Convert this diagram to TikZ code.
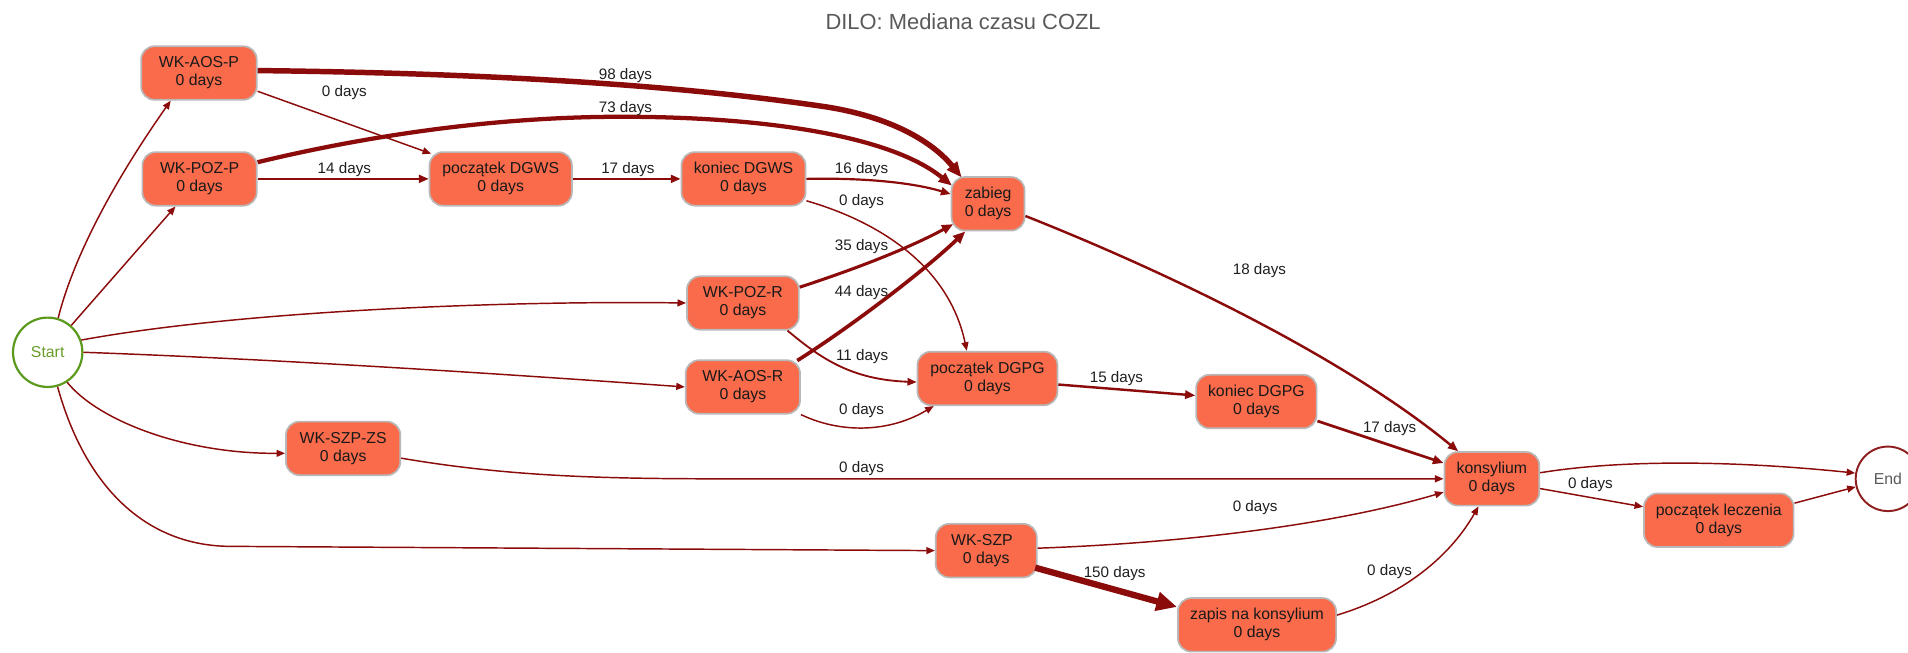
\documentclass[tikz,border=0pt]{standalone}
\usepackage{fontspec}
\setmainfont{Liberation Sans}
\usetikzlibrary{arrows.meta,calc}
\definecolor{edgecol}{HTML}{8B0A0A}
\definecolor{boxfill}{HTML}{F96B4B}
\definecolor{boxborder}{HTML}{B8B8B8}
\definecolor{startgreen}{HTML}{5C9A1E}
\definecolor{starttext}{HTML}{6A9C2C}
\definecolor{endred}{HTML}{8E1F1F}
\definecolor{titlegray}{HTML}{5A5A5A}
\begin{document}
\begin{tikzpicture}[x=1pt,y=-1pt,
  box/.style={draw=boxborder, line width=1.4pt, fill=boxfill, rounded corners=11pt,
    minimum height=44pt, inner sep=0pt, align=center,
    font=\fontsize{13}{14.8}\selectfont, text=black!90},
  e/.style={draw=edgecol, line width=1.2pt, -{Triangle[length=5pt 1.7, width=4pt 1.4]}},
  bige/.style={draw=edgecol, line width=5.2pt, -{Triangle[length=17pt, width=15pt]}},
  lbl/.style={font=\fontsize{12.5}{14}\selectfont, text=black!88, inner sep=0pt},
  ttl/.style={font=\fontsize{18}{20}\selectfont, text=titlegray, inner sep=0pt}]
\useasboundingbox (0,0) rectangle (1568,536);
\fill[white] (0,0) rectangle (1568,536);

\node[ttl] (title) at (791.5,18) {DILO: Mediana czasu COZL};

\node[circle, draw=startgreen, line width=1.8pt, minimum size=57pt, inner sep=0pt,
  font=\fontsize{13}{15}\selectfont, text=starttext] (start) at (39.2,289.5) {Start};
\node[circle, draw=endred, line width=1.6pt, fill=white, minimum size=53pt, inner sep=0pt,
  font=\fontsize{13}{15}\selectfont, text=titlegray] (end) at (1551.5,393.5) {End};

\node[box, minimum width=95pt] (aosp) at (163.5,60) {WK-AOS-P\\0 days};
\node[box, minimum width=94pt] (pozp) at (164,147) {WK-POZ-P\\0 days};
\node[box, minimum width=117pt] (pdgws) at (411.5,147) {początek DGWS\\0 days};
\node[box, minimum width=102pt] (kdgws) at (611,147) {koniec DGWS\\0 days};
\node[box, minimum width=60pt] (zabieg) at (812,167.5) {zabieg\\0 days};
\node[box, minimum width=92pt] (pozr) at (610.5,249) {WK-POZ-R\\0 days};
\node[box, minimum width=94pt] (aosr) at (610.5,318) {WK-AOS-R\\0 days};
\node[box, minimum width=115pt] (pdgpg) at (811.5,311) {początek DGPG\\0 days};
\node[box, minimum width=99pt] (kdgpg) at (1032.5,330) {koniec DGPG\\0 days};
\node[box, minimum width=94pt] (szpzs) at (282,368.5) {WK-SZP-ZS\\0 days};
\node[box, minimum width=78pt] (kons) at (1226,393.5) {konsylium\\0 days};
\node[box, minimum width=123pt] (plecz) at (1412.5,427.5) {początek leczenia\\0 days};
\node[box, minimum width=83pt] (szp) at (810.5,452.5) {WK-SZP\hspace*{7pt}\\0 days};
\node[box, minimum width=130pt] (zapis) at (1033,513.5) {zapis na konsylium\\0 days};

% edges from Start
\draw[e] (start.73) .. controls (62,205) and (100,140) .. ($(aosp.south west)+(25,0)$);
\draw[e] (start) -- (pozp);
\draw[e] (start.20) .. controls (200,255) and (420,247) .. (pozr.west);
\draw[e] (start.0) .. controls (250,296) and (450,310) .. (aosr.west);
\draw[e] (start.-57) .. controls (80,345) and (150,373) .. ($(szpzs.west)+(0,4)$);
\draw[e] (start.-74) .. controls (70,400) and (120,449) .. (190,449) -- (szp.west);

% upper part
\draw[e, line width=4.5pt] ($(aosp.east)+(0,-2)$) .. controls (400,60) and (560,70) .. (680,88)
  .. controls (730,96) and (765,115) .. ($(zabieg.north west)+(9,1)$);
\draw[e] ($(aosp.east)+(0,15)$) -- ($(pdgws.north west)+(2,2)$);
\draw[e, line width=3.5pt] ($(pozp.north east)+(0,9)$) .. controls (300,112) and (400,97) .. (500,96)
  .. controls (620,95) and (730,110) .. ($(zabieg.west)+(1,-15)$);
\draw[e, line width=1.8pt] (pozp) -- (pdgws);
\draw[e, line width=1.8pt] (pdgws) -- (kdgws);
\draw[e, line width=1.8pt] (kdgws.east) .. controls (710,146) and (750,150) .. ($(zabieg.west)+(0,-8)$);
\draw[e] ($(kdgws.east)+(0,18)$) .. controls (725,183) and (780,220) .. ($(pdgpg.north)+(-17,0)$);
\draw[e, line width=2.5pt] ($(pozr.east)+(0,-13)$) .. controls (700,222) and (745,205) .. ($(zabieg.south west)+(2,-6)$);
\draw[e, line width=3pt] ($(aosr.north east)+(-3,1)$) .. controls (700,268) and (760,222) .. ($(zabieg.south west)+(12,0)$);
\draw[e, line width=1.5pt] ($(pozr.south east)+(-10,0)$) .. controls (675,295) and (700,312) .. ($(pdgpg.west)+(0,3)$);
\draw[e] (aosr.south east) .. controls (690,356) and (730,356) .. ($(pdgpg.south west)+(14,0)$);
\draw[e, line width=2pt] ($(zabieg.east)+(0,10)$) .. controls (950,220) and (1100,290) .. ($(kons.north west)+(12,0)$);
\draw[e, line width=2pt] ($(pdgpg.east)+(0,5)$) -- ($(kdgpg.west)+(0,-5)$);
\draw[e, line width=2.2pt] ($(kdgpg.east)+(0,16)$) -- ($(kons.west)+(0,-13)$);

% lower part
\draw[e] ($(szpzs.east)+(0,8)$) .. controls (420,392) and (500,393.5) .. (600,393.5) -- (kons.west);
\draw[e] ($(szp.east)+(0,-2)$) .. controls (980,446) and (1100,430) .. ($(kons.west)+(0,11)$);
\draw[bige] ($(szp.east)+(-2,14)$) -- ($(zapis.north west)+(0,8)$);
\draw[e] ($(zapis.east)+(0,-8)$) .. controls (1150,490) and (1190,460) .. ($(kons.south)+(-11,0)$);
\draw[e] ($(kons.east)+(0,-5)$) .. controls (1330,378) and (1420,378) .. (end.170);
\draw[e] ($(kons.east)+(0,8)$) -- ($(plecz.west)+(0,-11)$);
\draw[e] ($(plecz.east)+(0,-14)$) -- (end.194);

% labels
\node[lbl] (l1) at (514,62) {98 days};
\node[lbl] (l2) at (283,76) {0 days};
\node[lbl] (l3) at (514,89) {73 days};
\node[lbl] (l4) at (283,139) {14 days};
\node[lbl] (l5) at (516,139) {17 days};
\node[lbl] (l6) at (708,139.5) {16 days};
\node[lbl] (l7) at (708,165.5) {0 days};
\node[lbl] (l8) at (708,203) {35 days};
\node[lbl] (l9) at (708,240.5) {44 days};
\node[lbl] (l10) at (1035,222) {18 days};
\node[lbl] (l11) at (708.5,293) {11 days};
\node[lbl] (l12) at (708,337.5) {0 days};
\node[lbl] (l13) at (917.5,311) {15 days};
\node[lbl] (l14) at (708,385) {0 days};
\node[lbl] (l15) at (1031.5,417.5) {0 days};
\node[lbl] (l16) at (916,471) {150 days};
\node[lbl] (l17) at (1142,352) {17 days};
\node[lbl] (l18) at (1307,398) {0 days};
\node[lbl] (l19) at (1142,470) {0 days};
\end{tikzpicture}
\end{document}
